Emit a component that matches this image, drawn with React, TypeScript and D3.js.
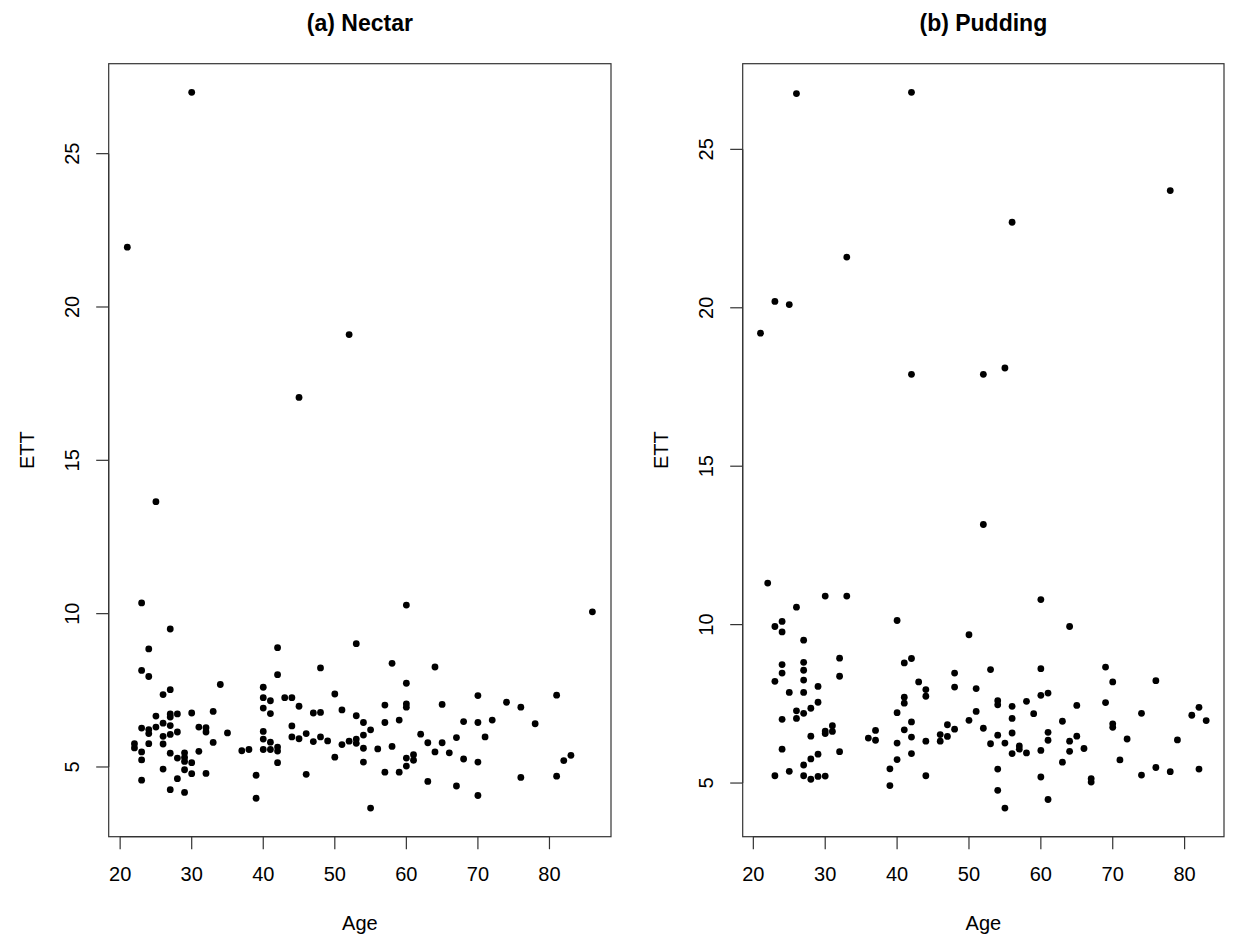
import React from "react";
import * as d3 from "d3";

// (a) Nectar
const nectarAge = [21, 30, 25, 45, 52, 23, 27, 24, 23, 24, 26, 27, 25, 27, 27, 28, 30, 23, 24, 24, 25, 26, 27, 26, 27, 28, 22, 22, 23, 24, 26, 23, 27, 28, 29, 29, 29, 30, 29, 26, 28, 30, 23, 27, 29, 31, 32, 32, 33, 34, 35, 31, 33, 32, 37, 38, 39, 39, 40, 40, 41, 40, 41, 40, 40, 41, 40, 41, 42, 42, 42, 42, 42, 43, 44, 45, 44, 44, 45, 46, 46, 47, 48, 48, 47, 48, 49, 50, 50, 51, 51, 52, 53, 53, 53, 53, 54, 54, 54, 54, 55, 55, 56, 57, 57, 57, 58, 58, 59, 59, 60, 60, 60, 60, 60, 60, 61, 61, 62, 63, 63, 64, 64, 65, 65, 66, 67, 67, 68, 68, 70, 70, 70, 70, 71, 72, 74, 76, 76, 78, 81, 81, 82, 83, 86];
const nectarETT = [21.95, 27.0, 13.65, 17.05, 19.1, 10.35, 9.5, 8.85, 8.15, 7.95, 7.36, 7.52, 6.66, 6.73, 6.63, 6.73, 6.76, 6.27, 6.22, 6.09, 6.3, 6.43, 6.35, 6.0, 6.06, 6.14, 5.76, 5.62, 5.49, 5.76, 5.75, 5.23, 5.45, 5.29, 5.46, 5.31, 5.18, 5.14, 4.91, 4.93, 4.62, 4.78, 4.57, 4.26, 4.17, 6.3, 6.28, 6.14, 6.81, 7.69, 6.11, 5.51, 5.8, 4.79, 5.53, 5.57, 4.73, 3.98, 7.6, 7.26, 7.16, 6.92, 6.74, 6.16, 5.91, 5.81, 5.57, 5.57, 8.89, 8.01, 5.65, 5.52, 5.14, 7.26, 7.26, 6.98, 6.34, 5.98, 5.92, 6.09, 4.76, 6.76, 6.78, 8.23, 5.83, 5.98, 5.85, 7.38, 5.32, 6.86, 5.73, 5.84, 9.02, 6.67, 5.91, 5.77, 6.45, 6.04, 5.61, 5.16, 6.21, 3.66, 5.59, 7.02, 6.45, 4.83, 8.38, 5.67, 6.53, 4.83, 10.28, 7.73, 7.06, 6.95, 5.29, 5.03, 5.4, 5.22, 6.07, 5.79, 4.53, 8.26, 5.49, 7.04, 5.79, 5.46, 5.96, 4.38, 6.48, 5.26, 7.33, 6.45, 5.16, 4.07, 5.98, 6.53, 7.11, 6.95, 4.66, 6.41, 7.34, 4.7, 5.21, 5.38, 10.06];

// (b) Pudding
const puddingAge = [21, 23, 25, 26, 33, 42, 42, 52, 55, 56, 78, 52, 22, 30, 33, 26, 23, 24, 24, 27, 40, 32, 32, 24, 24, 23, 27, 27, 27, 25, 27, 29, 29, 28, 26, 26, 27, 24, 28, 30, 30, 31, 31, 32, 24, 23, 25, 27, 28, 29, 27, 28, 29, 30, 36, 37, 37, 40, 40, 40, 39, 39, 60, 50, 41, 42, 53, 60, 48, 48, 43, 44, 44, 41, 41, 51, 51, 50, 54, 54, 56, 58, 59, 60, 61, 42, 41, 47, 46, 47, 46, 48, 52, 42, 42, 44, 44, 54, 53, 55, 56, 56, 56, 57, 57, 58, 60, 61, 61, 63, 63, 54, 54, 55, 60, 61, 64, 69, 70, 76, 65, 69, 74, 70, 70, 64, 65, 64, 66, 72, 79, 81, 82, 83, 71, 67, 67, 74, 76, 78, 82];
const puddingETT = [19.2, 20.2, 20.1, 26.76, 21.6, 26.8, 17.9, 17.9, 18.1, 22.7, 23.7, 13.16, 11.31, 10.9, 10.9, 10.55, 9.94, 10.1, 9.77, 9.51, 10.13, 8.94, 8.37, 8.74, 8.47, 8.21, 8.81, 8.56, 8.25, 7.86, 7.86, 8.05, 7.55, 7.36, 7.28, 7.04, 7.2, 7.01, 6.48, 6.56, 6.64, 6.81, 6.63, 5.99, 6.07, 5.23, 5.37, 5.57, 5.76, 5.91, 5.23, 5.12, 5.21, 5.22, 6.42, 6.66, 6.35, 7.22, 6.26, 5.74, 5.45, 4.92, 10.79, 9.68, 8.79, 8.93, 8.58, 8.61, 8.47, 8.03, 8.19, 7.95, 7.74, 7.71, 7.52, 7.98, 7.26, 6.98, 7.6, 7.47, 7.42, 7.58, 7.19, 7.77, 7.84, 6.93, 6.68, 6.84, 6.53, 6.47, 6.32, 6.7, 6.73, 6.45, 5.93, 6.32, 5.23, 6.51, 6.24, 6.26, 7.04, 6.58, 5.93, 6.17, 6.07, 5.95, 6.03, 6.6, 6.35, 6.95, 5.66, 5.44, 4.77, 4.21, 5.19, 4.48, 9.94, 8.66, 8.19, 8.23, 7.45, 7.54, 7.2, 6.87, 6.76, 6.32, 6.48, 6.0, 6.09, 6.39, 6.36, 7.14, 7.39, 6.97, 5.73, 5.14, 5.03, 5.25, 5.49, 5.36, 5.44];

const xTicks = [20, 30, 40, 50, 60, 70, 80];
const yTicks = [5, 10, 15, 20, 25];

const W = 1255;
const H = 944;
const top = 63.7;
const bottom = 836.7;
const font = "'Liberation Sans', Arial, Helvetica, sans-serif";

// R style axis range: data extent padded by 4%
function rRange(v: number[]): [number, number] {
  const [lo, hi] = d3.extent(v) as [number, number];
  const pad = (hi - lo) * 0.04;
  return [lo - pad, hi + pad];
}

function Panel({ title, ages, ett, x0, x1 }: { title: string; ages: number[]; ett: number[]; x0: number; x1: number }) {
  const x = d3.scaleLinear().domain(rRange(ages)).range([x0, x1]);
  const y = d3.scaleLinear().domain(rRange(ett)).range([bottom, top]);
  const cx = (x0 + x1) / 2;
  const cy = (top + bottom) / 2;
  const tick = 12.5;
  const xt = xTicks.filter((t) => t >= x.domain()[0] && t <= x.domain()[1]);
  const yt = yTicks.filter((t) => t >= y.domain()[0] && t <= y.domain()[1]);

  return (
    <g>
      <text x={cx} y={31} textAnchor="middle" fontWeight="bold" fontSize={23} fontFamily={font}>{title}</text>
      <rect x={x0} y={top} width={x1 - x0} height={bottom - top} fill="none" stroke="#333" strokeWidth={1.2} />

      {/* x axis */}
      <line x1={x(xt[0])} x2={x(xt[xt.length - 1])} y1={bottom} y2={bottom} stroke="#333" strokeWidth={1.2} />
      {xt.map((t) => (
        <g key={"x" + t}>
          <line x1={x(t)} x2={x(t)} y1={bottom} y2={bottom + tick} stroke="#333" strokeWidth={1.2} />
          <text x={x(t)} y={881} textAnchor="middle" fontSize={20} fontFamily={font}>{t}</text>
        </g>
      ))}
      <text x={cx} y={930} textAnchor="middle" fontSize={20} fontFamily={font}>Age</text>

      {/* y axis */}
      <line x1={x0} x2={x0} y1={y(yt[0])} y2={y(yt[yt.length - 1])} stroke="#333" strokeWidth={1.2} />
      {yt.map((t) => (
        <g key={"y" + t}>
          <line x1={x0 - tick} x2={x0} y1={y(t)} y2={y(t)} stroke="#333" strokeWidth={1.2} />
          <text transform={`translate(${x0 - 30},${y(t)}) rotate(-90)`} textAnchor="middle" fontSize={20} fontFamily={font}>{t}</text>
        </g>
      ))}
      <text transform={`translate(${x0 - 75},${cy}) rotate(-90)`} textAnchor="middle" fontSize={20} fontFamily={font}>ETT</text>

      {ages.map((a, i) => (
        <circle key={i} cx={x(a)} cy={y(ett[i])} r={3.4} fill="#000" />
      ))}
    </g>
  );
}

export default function App() {
  return (
    <svg width={W} height={H} style={{ position: "absolute", left: 0, top: 0, background: "#fff" }}>
      <rect width={W} height={H} fill="#fff" />
      <Panel title="(a) Nectar" ages={nectarAge} ett={nectarETT} x0={108.7} x1={611} />
      <Panel title="(b) Pudding" ages={puddingAge} ett={puddingETT} x0={742.7} x1={1224} />
    </svg>
  );
}
